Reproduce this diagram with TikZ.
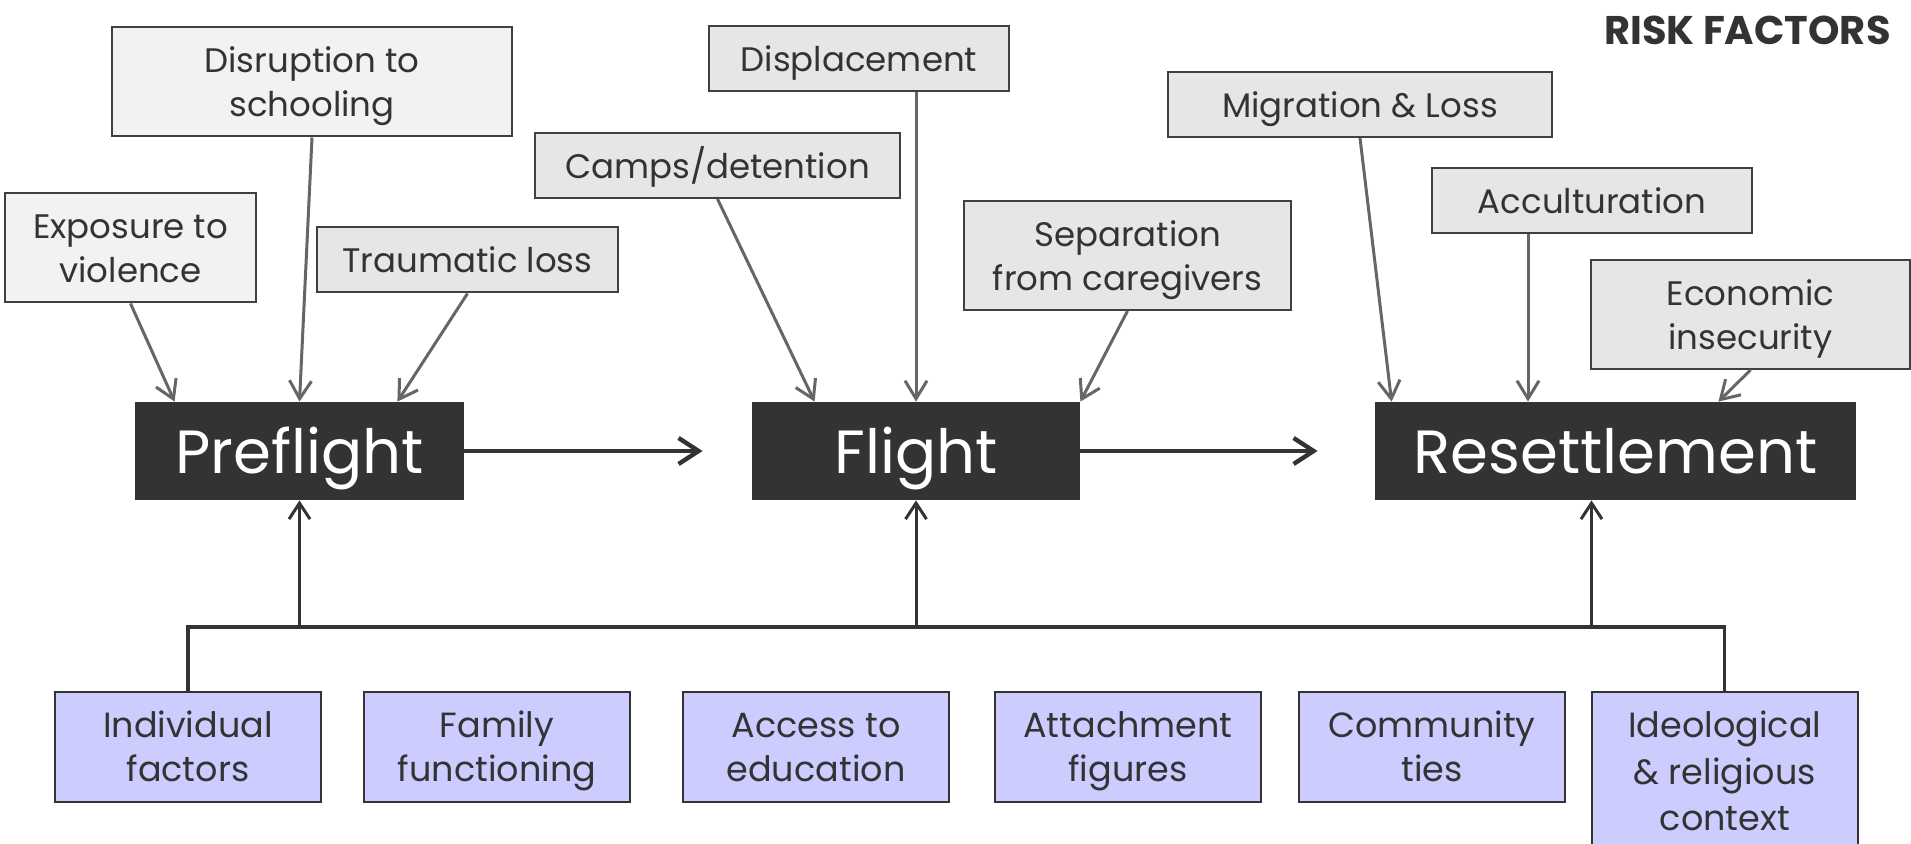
\documentclass[tikz,border=0pt]{standalone}
\usepackage{fontspec}
\setmainfont{Poppins}
\usetikzlibrary{arrows.meta,calc}

\definecolor{ink}{HTML}{333333}
\definecolor{boxline}{HTML}{404040}
\definecolor{paleA}{HTML}{F2F2F2}
\definecolor{paleB}{HTML}{E6E6E6}
\definecolor{stagefill}{HTML}{333333}
\definecolor{lav}{HTML}{CCCCFF}
\definecolor{arrowgray}{HTML}{666666}

% line strut: fixes each line's height and depth inside the boxes
\newcommand\ls{\rule[-4.6pt]{0pt}{22pt}}

\tikzset{
  risk/.style={draw=boxline, line width=1pt, text=ink, align=center,
    font=\fontsize{17}{22}\selectfont, inner xsep=0pt, inner ysep=5.25pt},
  riskA/.style={risk, fill=paleA},
  riskB/.style={risk, fill=paleB},
  stage/.style={fill=stagefill, text=white, inner sep=0pt,
    font=\fontsize{30.5}{36}\selectfont, text height=22.5pt, text depth=0pt,
    minimum height=49pt},
  factor/.style={draw=ink, line width=1pt, fill=lav, text=ink, align=center,
    font=\fontsize{17.5}{22}\selectfont, anchor=north, inner xsep=0pt,
    inner ysep=5.5pt, minimum width=133pt},
  riskarrow/.style={draw=arrowgray, line width=1.5pt,
    -{Straight Barb[length=9pt,width=11pt]}},
  stagearrow/.style={draw=ink, line width=2.2pt,
    -{Straight Barb[length=10pt,width=13pt]}},
  uparrow/.style={draw=ink, line width=1.5pt,
    -{Straight Barb[length=8pt,width=10.5pt]}},
  bus/.style={draw=ink, line width=1.7pt},
}

\begin{document}
\begin{tikzpicture}[x=0.5pt,y=-0.5pt]
\useasboundingbox (0,0) rectangle (1911,844);
\clip (0,0) rectangle (1911,844);

% title
\node[anchor=east, inner sep=0pt, text=ink, font=\fontsize{20}{24}\selectfont\bfseries]
  (title) at (1891,30) {RISK FACTORS};

% stages
\node[stage, minimum width=164.5pt] (pre) at (299.5,451) {Preflight};
\node[stage, minimum width=164pt]   (fli) at (916,451)   {Flight};
\node[stage, minimum width=240.5pt] (res) at (1615.5,451) {Resettlement};

\draw[stagearrow, shorten >=24.5pt] (pre.east) -- (fli.west);
\draw[stagearrow, shorten >=28.5pt] (fli.east) -- (res.west);

% risk factors
\node[riskA, minimum width=125.5pt] (expo) at (130.5,248) {\ls Exposure to\\\ls violence};
\node[riskA, minimum width=200pt]   (disr) at (312,82)    {\ls Disruption to\\\ls schooling};
\node[riskB, minimum width=150.5pt] (trau) at (467.5,260) {\ls Traumatic loss};
\node[riskB, minimum width=182.5pt] (camp) at (717.5,165.5) {\ls Camps/detention};
\node[riskB, minimum width=150pt]   (disp) at (859,59)    {\ls Displacement};
\node[riskB, minimum width=163.5pt] (sepa) at (1127.5,255.5) {\ls Separation\\\ls from caregivers};
\node[riskB, minimum width=192pt]   (migr) at (1360,104.5) {\ls Migration \& Loss};
\node[riskB, minimum width=160pt]   (accu) at (1592,200.5) {\ls Acculturation};
\node[riskB, minimum width=159.5pt] (econ) at (1750.5,314.5) {\ls Economic\\\ls insecurity};

\draw[riskarrow] (expo.south) -- ([xshift=20pt]pre.north west);
\draw[riskarrow] (disr.south) -- (pre.north);
\draw[riskarrow] (trau.south) -- ([xshift=-33.5pt]pre.north east);
\draw[riskarrow] (camp.south) -- ([xshift=31.5pt]fli.north west);
\draw[riskarrow] (disp.south -| fli.north) -- (fli.north);
\draw[riskarrow] (sepa.south) -- (fli.north east);
\draw[riskarrow] (migr.south) -- ([xshift=8.5pt]res.north west);
\draw[riskarrow] ([xshift=-32pt]accu.south) -- ([xshift=-32pt]accu.south |- res.north);
\draw[riskarrow] (econ.south) -- ([xshift=-69pt]res.north east);

% protective factors
\node[factor] (ind) at (188,691)    {\ls Individual\\\ls factors};
\node[factor] (fam) at (497,691)    {\ls Family\\\ls functioning};
\node[factor] (acc) at (816,691)    {\ls Access to\\\ls education};
\node[factor] (att) at (1128,691)   {\ls Attachment\\\ls figures};
\node[factor] (com) at (1432,691)   {\ls Community\\\ls ties};
\node[factor] (ide) at (1724.75,691) {\ls Ideological\\\ls \& religious\\\ls context};

\coordinate (busR) at (1724.75,627);
\draw[bus] (ind.north) |- (busR) -- (ide.north);

\draw[uparrow] (pre.south |- busR) -- (pre.south);
\draw[uparrow] (fli.south |- busR) -- (fli.south);
\draw[uparrow] ([xshift=-12pt]res.south |- busR) -- ([xshift=-12pt]res.south);
\end{tikzpicture}
\end{document}
